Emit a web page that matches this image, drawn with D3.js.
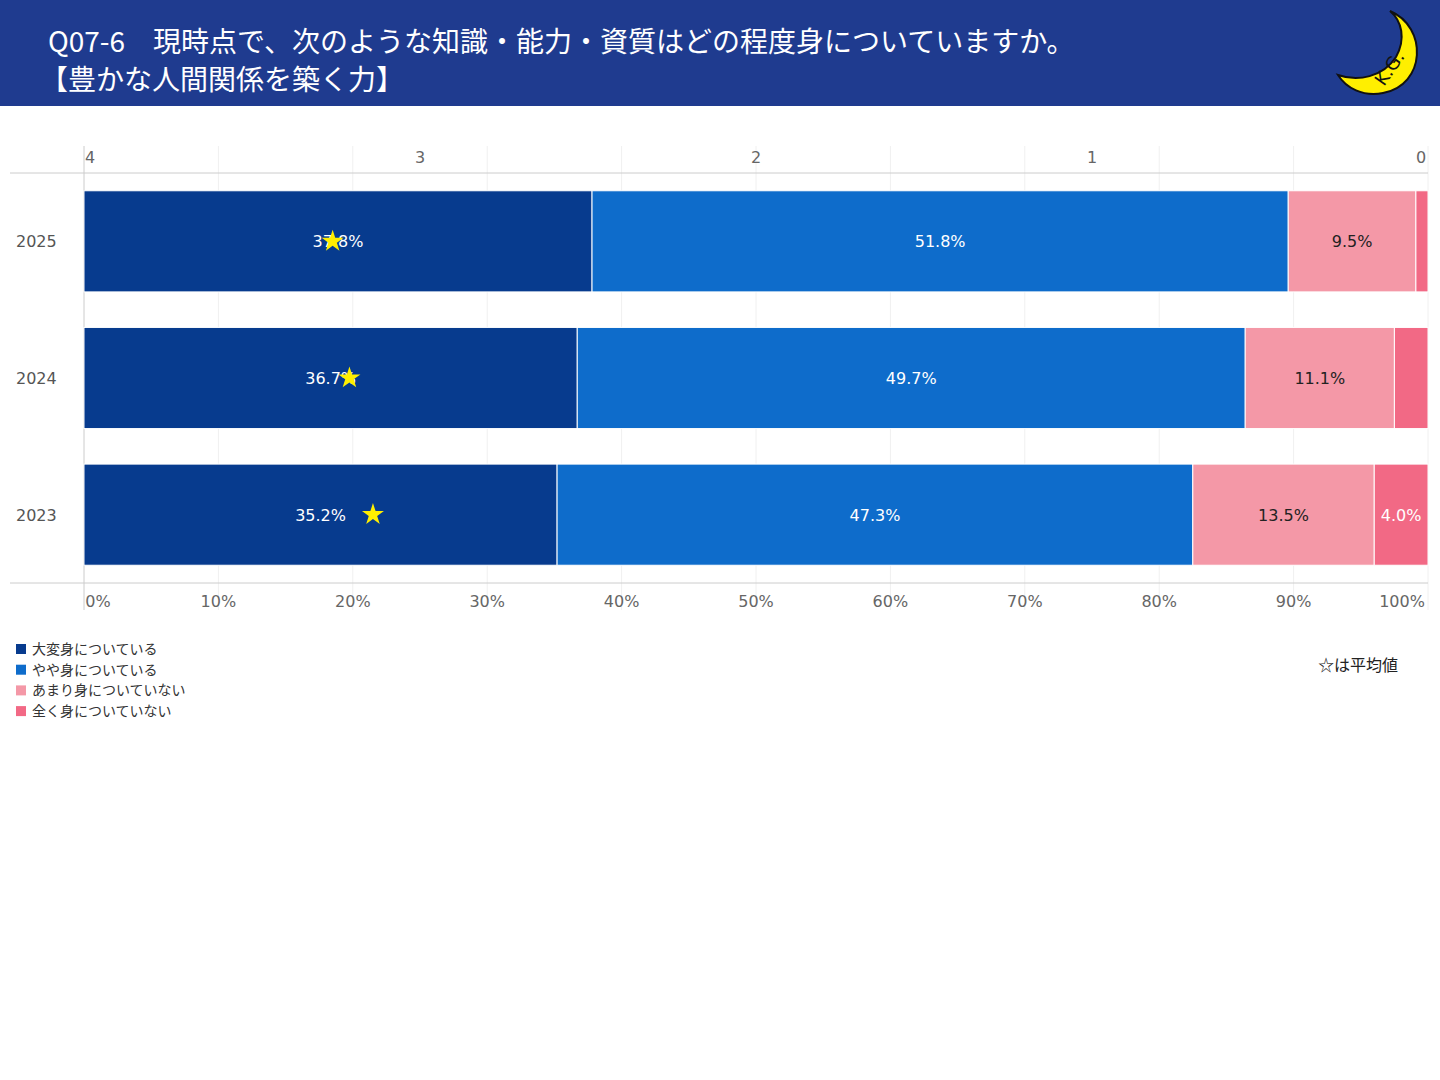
<!DOCTYPE html>
<html><head><meta charset="utf-8">
<script src="https://cdn.jsdelivr.net/npm/d3@7"></script>
<style>body{margin:0;background:#fff;font-family:"Noto Sans CJK JP","Noto Sans",sans-serif}</style>
</head><body>
<svg id="chart" width="1440" height="1080"></svg>
<script>
// data
let years = ["2025", "2024", "2023"];
let seriesNames = ["大変身についている", "やや身についている", "あまり身についていない", "全く身についていない"];
let seriesColors = ["#073b8e", "#0e6ccb", "#f498a7", "#f26985"];
let labelColors = ["#fff", "#fff", "#222", "#fff"];
let val2025 = [37.8, 51.8, 9.5, 0.9];
let val2024 = [36.7, 49.7, 11.1, 2.5];
let val2023 = [35.2, 47.3, 13.5, 4.0];
let averages = [3.26, 3.21, 3.14];
let pctTicks = [0, 10, 20, 30, 40, 50, 60, 70, 80, 90, 100];
let avgTicks = [4, 3, 2, 1, 0];

let values = [val2025, val2024, val2023];
let svg = d3.select("#chart");

// header
svg.append("rect").attr("width", 1440).attr("height", 106).attr("fill", "#1f3b8f");
svg.append("text").attr("x", 48).attr("y", 52).attr("fill", "#fff").attr("font-size", 28)
    .text("Q07-6　現時点で、次のような知識・能力・資質はどの程度身についていますか。");
svg.append("text").attr("x", 40).attr("y", 90).attr("fill", "#fff").attr("font-size", 28)
    .text("【豊かな人間関係を築く力】");
// moon logo
let logo = svg.append("g").attr("transform", "translate(1378,55)");
logo.append("path").attr("d", "M12,-44 C50,-28 48,30 5,38 C-15,42 -32,33 -40,20 C-20,27 5,22 18,2 C28,-16 24,-34 12,-44 Z")
    .attr("fill", "#ffef00").attr("stroke", "#111").attr("stroke-width", 2);
logo.append("text").attr("x", 6).attr("y", 32).attr("font-size", 18).attr("font-family", "DejaVu Sans")
    .attr("transform", "rotate(-55,6,32)").attr("fill", "#111").text("K.G.");

// scales
let x = d3.scaleLinear().domain([0, 100]).range([84, 1428]);
let xAvg = d3.scaleLinear().domain([4, 0]).range([84, 1428]);
let y = d3.scaleBand().domain(years).range([173, 583]).paddingInner(0.26).paddingOuter(0.13);

// gridlines
svg.append("g").selectAll("line").data(pctTicks).join("line")
    .attr("x1", d => x(d)).attr("x2", d => x(d)).attr("y1", 146).attr("y2", 610)
    .attr("stroke", d => d === 0 ? "#ccc" : "#f0f0f0");
svg.append("line").attr("x1", 10).attr("x2", 1428).attr("y1", 173).attr("y2", 173).attr("stroke", "#ccc");
svg.append("line").attr("x1", 10).attr("x2", 1428).attr("y1", 583).attr("y2", 583).attr("stroke", "#ccc");

// bars
years.forEach((yr, i) => {
    let start = 0;
    values[i].forEach((v, j) => {
        let x0 = x(start), x1 = x(Math.min(100, start + v));
        svg.append("rect").attr("x", x0).attr("y", y(yr)).attr("width", x1 - x0).attr("height", y.bandwidth())
            .attr("fill", seriesColors[j]).attr("stroke", "#fff").attr("stroke-width", 1);
        if (v >= 3) {
            svg.append("text").attr("x", (x0 + x1) / 2).attr("y", y(yr) + y.bandwidth() / 2 + 6)
                .attr("text-anchor", "middle").attr("font-size", 16).attr("font-family", "DejaVu Sans")
                .attr("fill", labelColors[j]).text(v.toFixed(1) + "%");
        }
        start += v;
    });
    // average star
    svg.append("path").attr("d", d3.symbol(d3.symbolStar, 150)())
        .attr("transform", `translate(${xAvg(averages[i])},${y(yr) + y.bandwidth() / 2})`)
        .attr("fill", "#ffef00");
    svg.append("text").attr("x", 16).attr("y", y(yr) + y.bandwidth() / 2 + 6).attr("font-size", 16)
        .attr("font-family", "DejaVu Sans").attr("fill", "#555").text(yr);
});

// axes labels
svg.append("g").selectAll("text").data(pctTicks).join("text")
    .attr("x", d => x(d) + (d === 100 ? -26 : d === 0 ? 14 : 0)).attr("y", 607)
    .attr("text-anchor", "middle").attr("font-size", 16).attr("font-family", "DejaVu Sans").attr("fill", "#666")
    .text(d => d + "%");
svg.append("g").selectAll("text").data(avgTicks).join("text")
    .attr("x", d => xAvg(d) + (d === 4 ? 6 : d === 0 ? -7 : 0)).attr("y", 163)
    .attr("text-anchor", "middle").attr("font-size", 16).attr("font-family", "DejaVu Sans").attr("fill", "#666")
    .text(d => d);

// legend
seriesNames.forEach((n, j) => {
    svg.append("rect").attr("x", 16).attr("y", 644 + j * 20.7).attr("width", 10).attr("height", 10).attr("fill", seriesColors[j]);
    svg.append("text").attr("x", 32).attr("y", 654 + j * 20.7).attr("font-size", 14).attr("fill", "#333").text(n);
});
svg.append("text").attr("x", 1398).attr("y", 671).attr("text-anchor", "end").attr("font-size", 16).attr("fill", "#222").text("☆は平均値");
</script>
</body></html>
